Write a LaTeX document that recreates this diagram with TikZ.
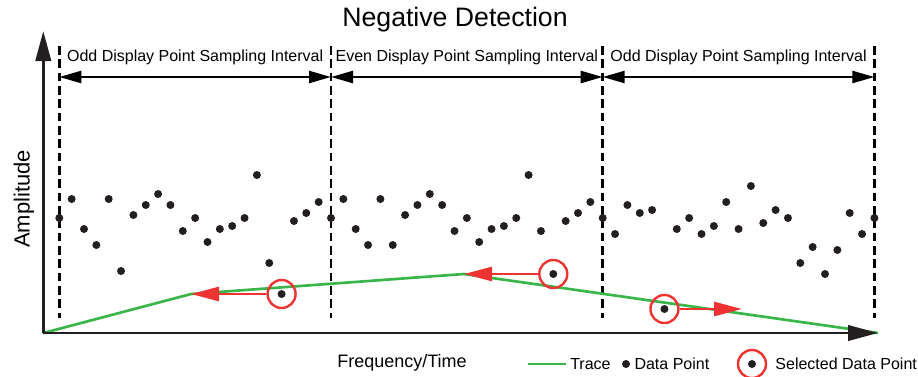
\documentclass[tikz,border=0pt]{standalone}
\usepackage{fontspec}
\setmainfont{Liberation Sans}
\usetikzlibrary{positioning}
\usetikzlibrary{arrows.meta}
\usepackage{xcolor}
\definecolor{axisgray}{RGB}{35,31,32}
\definecolor{tracegreen}{RGB}{57,181,74}
\definecolor{pickred}{RGB}{239,51,51}

\begin{document}
\begin{tikzpicture}[x=0.75pt, y=-0.75pt,
    every node/.style={inner sep=0pt},
    axisline/.style={draw=axisgray, line width=2.2pt, -{Triangle[length=22.5pt, width=11.5pt]}},
    divider/.style={draw=black, line width=2.1pt, dash pattern=on 6.5pt off 3.5pt},
    intervalarrow/.style={draw=black, line width=1.7pt,
        {Triangle[length=16.5pt, width=9pt]}-{Triangle[length=16.5pt, width=9pt]}},
    dot/.style={circle, fill=axisgray, minimum size=6pt},
    ring/.style={circle, draw=pickred, line width=1.8pt, minimum size=21pt},
    trace/.style={draw=tracegreen, line width=2pt},
    pick/.style={draw=pickred, line width=2pt, -{Triangle[length=21pt, width=10.5pt]}},
    lbl/.style={font=\fontsize{12}{14}\selectfont},
    axislabel/.style={font=\fontsize{13.5}{16}\selectfont}]
    \useasboundingbox (0,0) rectangle (918,376);

    \node[font=\fontsize{20}{24}\selectfont] (title) at (455,20) {Negative Detection};

    % sampling interval borders
    \foreach \k in {0,...,3}{
        \coordinate (dt\k) at ({59.3+271.7*\k},46);
        \coordinate (db\k) at ({59.3+271.7*\k},318);
        \coordinate (da\k) at ({59.3+271.7*\k},77);
        \draw[divider] (dt\k) -- (db\k);
    }
    \draw[intervalarrow] (da0) -- node[lbl, above=8.5pt] (iv1) {Odd Display Point Sampling Interval} (da1);
    \draw[intervalarrow] (da1) -- node[lbl, above=8.5pt] (iv2) {Even Display Point Sampling Interval} (da2);
    \draw[intervalarrow] (da2) -- node[lbl, above=8.5pt] (iv3) {Odd Display Point Sampling Interval} (da3);

    % data points
    \foreach \v [count=\i from 0] in {218,199,229,245,199,271,215,205,194,205,231,218,242,229,226,218,175,263,294,221,213,202,
            218,199,229,245,199,245,215,205,194,205,231,218,242,229,226,218,175,231,274,221,213,202,
            218,234,205,213,210,309,229,218,234,226,202,229,186,223,210,218,263,247,274,250,213,234,218}{
        \node[dot] (p\i) at ({59.3+12.35*\i},\v) {};
    }

    % trace
    \coordinate (O) at (43.3,333);
    \coordinate (ytop) at (43.3,31);
    \coordinate (xend) at (878,333);
    \coordinate (k1) at (191,294);
    \coordinate (k2) at (464,274);
    \draw[trace] (O) -- (k1) -- (k2) -- (xend);

    % selected points
    \node[ring] (r1) at (p18) {};
    \node[ring] (r2) at (p40) {};
    \node[ring] (r3) at (p49) {};
    \coordinate (t3) at (742,309);
    \draw[pick] (r1) -- (k1);
    \draw[pick] (r2) -- (k2);
    \draw[pick] (r3) -- (t3);

    % axes
    \draw[axisline] (O) -- (ytop);
    \draw[axisline] (O) -- (xend);
    \node[font=\fontsize{16.5}{19}\selectfont, rotate=90] (ylab) at (24,199) {Amplitude};
    \node[axislabel, anchor=west] (xlab) at (337,363) {Frequency/Time};

    % legend
    \coordinate (lt0) at (528,364);
    \coordinate (lt1) at (566,364);
    \draw[trace] (lt0) -- (lt1);
    \node[lbl, right=3pt of lt1] (ltrace) {Trace};
    \node[dot] (ldot) at (626,364) {};
    \node[lbl, right=3pt of ldot] (ldata) {Data Point};
    \node[ring] (lring) at (752,364) {};
    \node[dot] (lsel) at (lring) {};
    \node[lbl, right=6pt of lring] (lselt) {Selected Data Point};
\end{tikzpicture}
\end{document}
